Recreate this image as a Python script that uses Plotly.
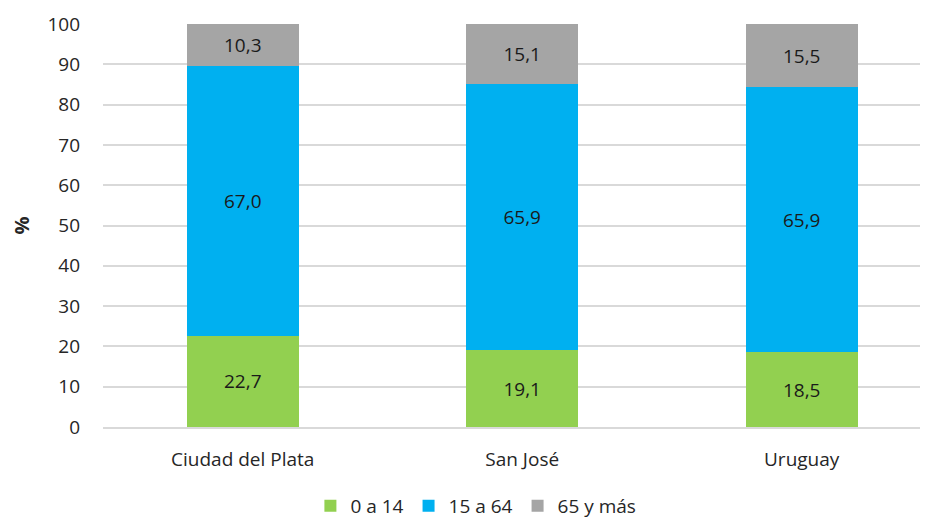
import plotly.graph_objects as go

categories = ["Ciudad del Plata", "San José", "Uruguay"]
series_names = ["0 a 14", "15 a 64", "65 y más"]
v_0_14 = [22.7, 19.1, 18.5]
v_15_64 = [67.0, 65.9, 65.9]
v_65 = [10.3, 15.1, 15.5]
colors = ["#92D050", "#00B0F0", "#A5A5A5"]
y_ticks = [0, 10, 20, 30, 40, 50, 60, 70, 80, 90, 100]

FONT = "Open Sans"
fig = go.Figure()
for name, vals, col in zip(series_names, [v_0_14, v_15_64, v_65], colors):
    fig.add_trace(go.Bar(
        x=categories, y=vals, name=name, marker=dict(color=col, line=dict(width=0)),
        width=0.4,
        text=[f"{v:.1f}".replace(".", ",") for v in vals],
        textposition="inside", insidetextanchor="middle",
        textfont=dict(family=FONT, size=19, color="#1a1a1a"),
        hoverinfo="skip",
    ))

# page body has an 8px default margin, so the figure is sized to fit the window
fig.update_layout(
    barmode="stack",
    width=920, height=513,
    margin=dict(l=95, r=0, t=16, b=94, autoexpand=False),
    paper_bgcolor="white", plot_bgcolor="white",
    font=dict(family=FONT, size=19, color="#262626"),
    showlegend=True,
    legend=dict(orientation="h", x=0.452, xanchor="center", y=-0.196, yanchor="middle",
                traceorder="normal",
                font=dict(family=FONT, size=19, color="#262626"),
                itemwidth=30, tracegroupgap=0),
)
fig.update_xaxes(range=[-0.5, 2.452], showgrid=False, showline=True, linecolor="#D9D9D9",
                 linewidth=2, ticks="", tickfont=dict(size=19), ticklabelstandoff=14,
                 automargin=False)
fig.update_yaxes(range=[0, 100], tickvals=y_ticks, showgrid=True, gridcolor="#D9D9D9",
                 gridwidth=2, zeroline=False, showline=False, ticks="",
                 tickfont=dict(size=19), ticklabelstandoff=22, automargin=False,
                 title=dict(text="<b>%</b>", font=dict(size=20, color="#262626"), standoff=16))

fig.write_html("out.html")
